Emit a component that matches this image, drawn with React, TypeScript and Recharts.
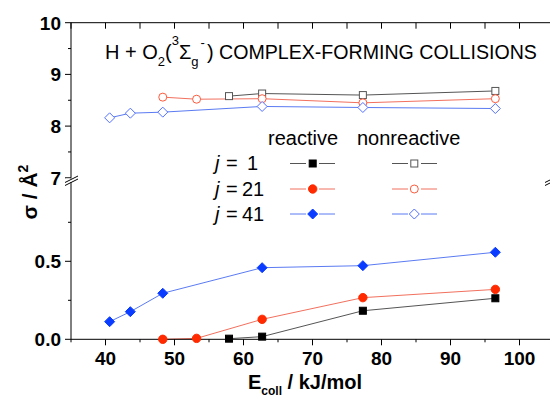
import React from "react";
import { LineChart, Line, XAxis, YAxis } from "recharts";

// collision energies (kJ/mol) for each rotational state
const energyJ1 = [57.9, 62.7, 77.3, 96.5];
const energyJ21 = [48.3, 53.2, 62.7, 77.3, 96.5];
const energyJ41 = [40.6, 43.6, 48.3, 62.7, 77.3, 96.5];

// nonreactive cross sections (upper panel)
const nonreactiveJ1 = [8.58, 8.63, 8.6, 8.68];
const nonreactiveJ21 = [8.56, 8.52, 8.53, 8.45, 8.53];
const nonreactiveJ41 = [8.16, 8.25, 8.27, 8.38, 8.36, 8.34];

// reactive cross sections (lower panel)
const reactiveJ1 = [0.004, 0.017, 0.183, 0.263];
const reactiveJ21 = [0.0, 0.006, 0.128, 0.267, 0.32];
const reactiveJ41 = [0.113, 0.177, 0.295, 0.459, 0.472, 0.558];

const xTicks = [35, 40, 45, 50, 55, 60, 65, 70, 75, 80, 85, 90, 95, 100, 105];
const yTicksTop = [7, 7.5, 8, 8.5, 9, 9.5, 10];
const yTicksBottom = [0, 0.25, 0.5, 0.75];

const FONT = "'Liberation Sans', Arial, Helvetica, sans-serif";

const BLACK = { line: "#555555", fill: "#000000", open: "#555555" };
const RED = { line: "#f2705e", fill: "#ff2a00", open: "#ff5a3c" };
const BLUE = { line: "#5b7bf2", fill: "#0a3cff", open: "#5270ff" };

const rows = (e: number[], s: number[]) => e.map((x, i) => ({ e: x, s: s[i] }));

type MarkProps = { cx: number; cy: number; color: string; filled: boolean };

const Square = ({ cx, cy, color, filled }: MarkProps) => (
  <rect x={cx - 3.5} y={cy - 3.5} width={7} height={7}
    fill={filled ? color : "#fff"} stroke={color} strokeWidth={1} />
);
const Circle = ({ cx, cy, color, filled }: MarkProps) => (
  <circle cx={cx} cy={cy} r={filled ? 4.2 : 4}
    fill={filled ? color : "#fff"} stroke={color} strokeWidth={1} />
);
const Diamond = ({ cx, cy, color, filled }: MarkProps) => (
  <polygon points={`${cx},${cy - 5} ${cx + 5},${cy} ${cx},${cy + 5} ${cx - 5},${cy}`}
    fill={filled ? color : "#fff"} stroke={color} strokeWidth={1} />
);

const dotOf = (Shape: any, color: string, filled: boolean) => (p: any) => {
  if (p.cx == null || p.cy == null) return <g key={p.index} />;
  return <Shape key={p.index} cx={p.cx} cy={p.cy} color={color} filled={filled} />;
};

const isMult = (v: number, step: number) => Math.abs(v / step - Math.round(v / step)) < 1e-6;

const leftTick = (majorStep: number, digits: number) => (p: any) => {
  const v = p.payload.value;
  const major = isMult(v, majorStep);
  return (
    <g>
      <line x1={p.x} x2={p.x - (major ? 6 : 3)} y1={p.y} y2={p.y} stroke="#000" />
      {major && (
        <text x={p.x - 10} y={p.y} dy="0.36em" textAnchor="end"
          fontFamily={FONT} fontWeight="bold" fontSize={19} fill="#000">
          {v.toFixed(digits)}
        </text>
      )}
    </g>
  );
};

const rightTick = (majorStep: number) => (p: any) => {
  const major = isMult(p.payload.value, majorStep);
  return <line x1={p.x} x2={p.x - (major ? 6 : 3)} y1={p.y} y2={p.y} stroke="#000" />;
};

const topTick = (p: any) => (
  <line x1={p.x} x2={p.x} y1={p.y} y2={p.y + 6} stroke="#000" />
);

const bottomTick = (p: any) => {
  const v = p.payload.value;
  const major = isMult(v, 10);
  return (
    <g>
      <line x1={p.x} x2={p.x} y1={p.y} y2={p.y + (major ? 6 : 3)} stroke="#000" />
      {major && (
        <text x={p.x} y={p.y + 12} dy="0.71em" textAnchor="middle"
          fontFamily={FONT} fontWeight="bold" fontSize={19} fill="#000">
          {v}
        </text>
      )}
    </g>
  );
};

const axisLine = { stroke: "#000", strokeWidth: 1 };

function App() {
  const top = [
    { d: rows(energyJ1, nonreactiveJ1), c: BLACK, S: Square },
    { d: rows(energyJ21, nonreactiveJ21), c: RED, S: Circle },
    { d: rows(energyJ41, nonreactiveJ41), c: BLUE, S: Diamond },
  ];
  const bottom = [
    { d: rows(energyJ1, reactiveJ1), c: BLACK, S: Square },
    { d: rows(energyJ21, reactiveJ21), c: RED, S: Circle },
    { d: rows(energyJ41, reactiveJ41), c: BLUE, S: Diamond },
  ];

  const legendRows = [
    { n: "1", nx: 247, y: 170, c: BLACK, S: Square },
    { n: "21", nx: 242, y: 195.5, c: RED, S: Circle },
    { n: "41", nx: 242, y: 220.5, c: BLUE, S: Diamond },
  ];

  return (
    <div style={{ position: "absolute", left: 0, top: 0, width: 550, height: 399, overflow: "hidden", background: "#fff" }}>
      {/* lower panel: reactive */}
      <div style={{ position: "absolute", left: 0, top: 0 }}>
        <LineChart width={560} height={399} margin={{ top: 183.3, right: 6, bottom: 29.7, left: 0 }}>
          <XAxis xAxisId="x" dataKey="e" type="number" orientation="bottom" domain={[35, 105]}
            ticks={xTicks} interval={0} height={30} tickSize={0} tickMargin={0}
            tickLine={false} axisLine={axisLine} tick={bottomTick} allowDuplicatedCategory={false} />
          <YAxis yAxisId="l" type="number" orientation="left" domain={[0, 1]} ticks={yTicksBottom}
            interval={0} width={71} tickSize={0} tickMargin={0} tickLine={false}
            axisLine={axisLine} tick={leftTick(0.5, 1)} />
          <YAxis yAxisId="r" type="number" orientation="right" mirror domain={[0, 1]} ticks={yTicksBottom}
            interval={0} tickSize={0} tickMargin={0} tickLine={false}
            axisLine={axisLine} tick={rightTick(0.5)} />
          {bottom.map((s, i) => (
            <Line key={i} data={s.d} dataKey="s" xAxisId="x" yAxisId="l" type="linear"
              stroke={s.c.line} strokeWidth={1} dot={dotOf(s.S, s.c.fill, true)}
              activeDot={false} isAnimationActive={false} />
          ))}
        </LineChart>
      </div>

      {/* upper panel: nonreactive */}
      <div style={{ position: "absolute", left: 0, top: 0 }}>
        <LineChart width={560} height={190} margin={{ top: 22.7, right: 6, bottom: 12.2, left: 0 }}>
          <XAxis xAxisId="x" dataKey="e" type="number" orientation="top" mirror domain={[35, 105]}
            ticks={xTicks} interval={0} tickSize={0} tickMargin={0}
            tickLine={false} axisLine={axisLine} tick={topTick} allowDuplicatedCategory={false} />
          <YAxis yAxisId="l" type="number" orientation="left" domain={[7, 10]} ticks={yTicksTop}
            interval={0} width={71} tickSize={0} tickMargin={0} tickLine={false}
            axisLine={axisLine} tick={leftTick(1, 0)} />
          <YAxis yAxisId="r" type="number" orientation="right" mirror domain={[7, 10]} ticks={yTicksTop}
            interval={0} tickSize={0} tickMargin={0} tickLine={false}
            axisLine={axisLine} tick={rightTick(1)} />
          {top.map((s, i) => (
            <Line key={i} data={s.d} dataKey="s" xAxisId="x" yAxisId="l" type="linear"
              stroke={s.c.line} strokeWidth={1} dot={dotOf(s.S, s.c.open, false)}
              activeDot={false} isAnimationActive={false} />
          ))}
        </LineChart>
      </div>

      {/* annotations */}
      <svg width={550} height={399} style={{ position: "absolute", left: 0, top: 0, pointerEvents: "none" }}
        fontFamily={FONT}>
        {/* axis breaks */}
        <line x1={71} x2={71} y1={177.8} y2={183.3} stroke="#000" />
        <rect x={66} y={178.6} width={10} height={3.4} fill="#fff" />
        <line x1={65} y1={182.5} x2={78} y2={176} stroke="#000" />
        <line x1={65} y1={185.5} x2={78} y2={179} stroke="#000" />
        <line x1={545} y1={182.5} x2={558} y2={176} stroke="#000" />
        <line x1={545} y1={185.5} x2={558} y2={179} stroke="#000" />

        {/* title */}
        <text y={58.5} fontSize={20} fill="#000">
          <tspan x={105}>H + O</tspan>
          <tspan y={66} fontSize={13}>2</tspan>
          <tspan y={58.5}>(</tspan>
          <tspan y={45} fontSize={13}>3</tspan>
          <tspan y={58.5}>Σ</tspan>
          <tspan y={66} fontSize={13}>g</tspan>
          <tspan y={47} fontSize={13} dx={2}>-</tspan>
          <tspan y={58.5} dx={2}>)</tspan>
        </text>
        <text x={219} y={58.5} fontSize={19.6} fill="#000">COMPLEX-FORMING COLLISIONS</text>

        {/* legend */}
        <text x={268} y={145} fontSize={20} fill="#000">reactive</text>
        <text x={357} y={145} fontSize={20} fill="#000">nonreactive</text>
        {legendRows.map((r, i) => {
          const my = r.y - 6.5;
          return (
            <g key={i}>
              <text x={215} y={r.y} fontSize={20} fontStyle="italic" fill="#000">j</text>
              <text x={226} y={r.y} fontSize={20} fill="#000">=</text>
              <text x={r.nx} y={r.y} fontSize={20} fill="#000">{r.n}</text>
              <line x1={290} x2={306} y1={my} y2={my} stroke={r.c.line} />
              <line x1={319} x2={335} y1={my} y2={my} stroke={r.c.line} />
              <r.S cx={312.7} cy={my} color={r.c.fill} filled />
              <line x1={392} x2={408} y1={my} y2={my} stroke={r.c.line} />
              <line x1={421} x2={437} y1={my} y2={my} stroke={r.c.line} />
              <r.S cx={414.3} cy={my} color={r.c.open} filled={false} />
            </g>
          );
        })}

        {/* axis titles */}
        <text transform="translate(37,192) rotate(-90)" textAnchor="middle" fontSize={21}
          fontWeight="bold" fill="#000">
          <tspan>σ / Å</tspan>
          <tspan dy={-9} fontSize={14}>2</tspan>
        </text>
        <text y={389} fontSize={20} fontWeight="bold" fill="#000">
          <tspan x={248}>E</tspan>
          <tspan dy={6} fontSize={12}>coll</tspan>
          <tspan dy={-6}> / kJ/mol</tspan>
        </text>
      </svg>
    </div>
  );
}

export default App;
